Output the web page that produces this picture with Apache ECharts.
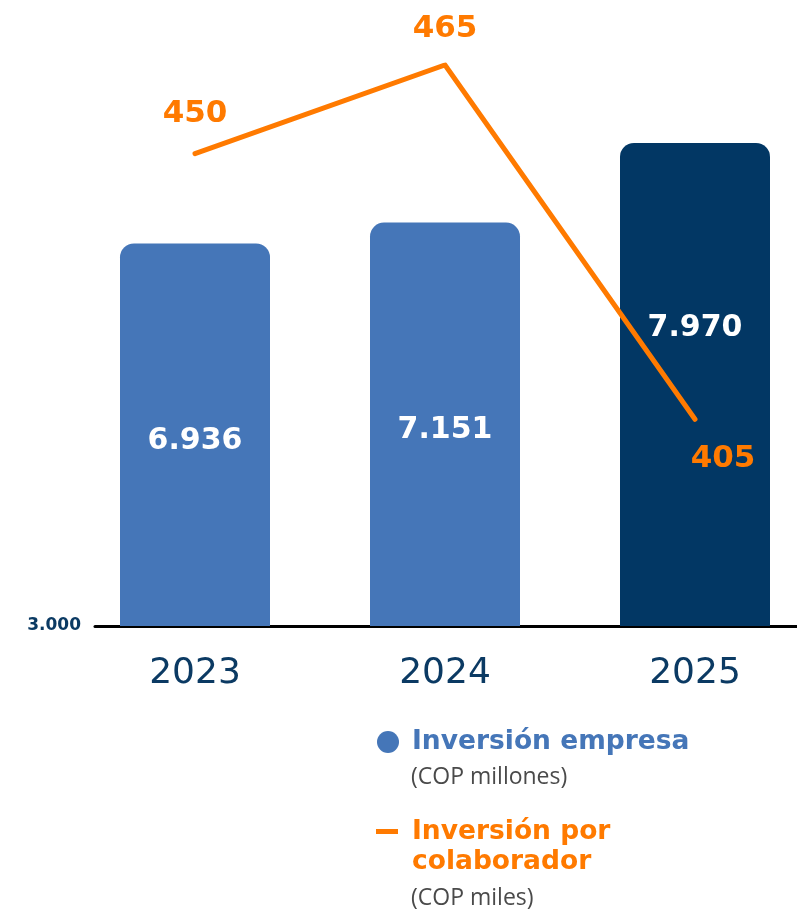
<!DOCTYPE html>
<html><head><meta charset="utf-8">
<script src="https://cdn.jsdelivr.net/npm/echarts@6/dist/echarts.min.js"></script>
<style>html,body{margin:0;padding:0;background:#fff}#c{width:797px;height:912px}</style>
</head><body><div id="c"></div>
<script>
const years = ['2023', '2024', '2025'];
const empresa = [6936, 7151, 7970];          // COP millones
const colaborador = [450, 465, 405];         // COP miles
const yTicks = [3000];
const barColors = ['#4576B8', '#4576B8', '#023764'];
const orange = '#FF7A00';
const navy = '#0B3A63';

function fmt(v) { return String(v).replace(/\B(?=(\d{3})+(?!\d))/g, '.'); }

const barLabelOffsets = [[0, 6], [0, 6], [0, -56]];
const lineLabelCfg = [
  { position: 'top', distance: 24, offset: [0, 0] },
  { position: 'top', distance: 20, offset: [0, 0] },
  { position: 'bottom', distance: 24, offset: [28, 0] }
];

const chart = echarts.init(document.getElementById('c'));
chart.setOption({
  animation: false,
  grid: { left: 95, right: 0, top: 65, bottom: 286 },
  xAxis: {
    type: 'value', min: -0.4, max: 2.408,
    splitLine: { show: false },
    axisLine: { show: true, onZero: false, lineStyle: { color: '#000', width: 3 } },
    axisTick: { show: false },
    axisLabel: {
      customValues: [0, 1, 2],
      formatter: v => years[Math.round(v)],
      margin: 30, fontFamily: 'DejaVu Sans', fontSize: 36, color: navy
    }
  },
  yAxis: [
    {
      type: 'value', min: 3000, max: 8772,
      splitLine: { show: false }, axisLine: { show: false }, axisTick: { show: false },
      axisLabel: {
        customValues: yTicks, formatter: v => fmt(v), margin: 14,
        fontFamily: 'DejaVu Sans', fontWeight: 'bold', fontSize: 17, color: navy
      }
    },
    { type: 'value', min: 370, max: 465, show: false, splitLine: { show: false } }
  ],
  series: [
    {
      type: 'bar', barWidth: 150,
      data: empresa.map((v, i) => ({
        value: [i, v],
        itemStyle: { color: barColors[i], borderRadius: [14, 14, 0, 0] },
        label: { offset: barLabelOffsets[i] }
      })),
      label: {
        show: true, position: 'inside', formatter: p => fmt(p.value[1]),
        color: '#fff', fontFamily: 'DejaVu Sans', fontWeight: 'bold', fontSize: 30
      },
      z: 1
    },
    {
      type: 'line', yAxisIndex: 1, showSymbol: true, symbol: 'circle', symbolSize: 1,
      lineStyle: { color: orange, width: 5, cap: 'round', join: 'miter' },
      itemStyle: { color: orange },
      data: colaborador.map((v, i) => ({
        value: [i, v],
        label: Object.assign({ show: true }, lineLabelCfg[i])
      })),
      label: {
        show: true, formatter: p => fmt(p.value[1]),
        color: orange, fontFamily: 'DejaVu Sans', fontWeight: 'bold', fontSize: 31
      },
      z: 3
    }
  ],
  graphic: [
    { type: 'circle', shape: { cx: 388, cy: 742, r: 11 }, style: { fill: '#4576B8' } },
    { type: 'text', x: 412, y: 742, style: { text: 'Inversión empresa', fill: '#4576B8', font: 'bold 26.5px "DejaVu Sans"', verticalAlign: 'middle' } },
    { type: 'text', x: 411, y: 777, style: { text: '(COP millones)', fill: '#4a4a4a', font: '23px "Open Sans"', verticalAlign: 'middle' } },
    { type: 'rect', shape: { x: 376, y: 829, width: 22, height: 5 }, style: { fill: orange } },
    { type: 'text', x: 412, y: 832, style: { text: 'Inversión por', fill: orange, font: 'bold 26.5px "DejaVu Sans"', verticalAlign: 'middle' } },
    { type: 'text', x: 412, y: 862, style: { text: 'colaborador', fill: orange, font: 'bold 26.5px "DejaVu Sans"', verticalAlign: 'middle' } },
    { type: 'text', x: 411, y: 898, style: { text: '(COP miles)', fill: '#4a4a4a', font: '23px "Open Sans"', verticalAlign: 'middle' } }
  ]
});
</script></body></html>
